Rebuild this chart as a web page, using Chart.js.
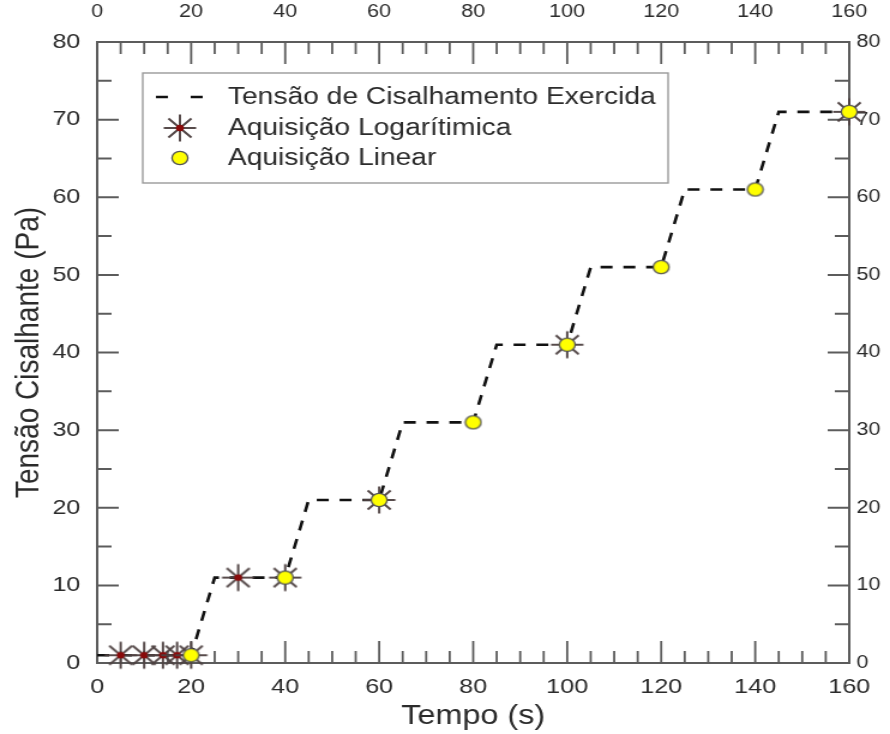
<!DOCTYPE html>
<html>
<head>
<meta charset="utf-8">
<script src="https://cdn.jsdelivr.net/npm/chart.js@4.4.1/dist/chart.umd.min.js"></script>
<style>
  html, body { margin: 0; padding: 0; background: #fff; overflow: hidden; }
  /* o gráfico é desenhado mais estreito e esticado na horizontal */
  #wrap { width: 742px; height: 734px; transform: scaleX(1.1995); transform-origin: 0 0; }
  #stressChart { display: block; }
</style>
</head>
<body>
<div id="wrap"><canvas id="stressChart" width="742" height="734"></canvas></div>
<script>
// Degraus da tensão aplicada (tempo em s, tensão em Pa)
const stepTime   = [0, 20, 25, 40, 45, 60, 65, 80, 85, 100, 105, 120, 125, 140, 145, 160];
const stepStress = [1, 1, 11, 11, 21, 21, 31, 31, 41, 41, 51, 51, 61, 61, 71, 71];

// Pontos da aquisição logarítmica
const logTime   = [5, 10, 14, 17, 20, 30, 40, 60, 100, 160];
const logStress = [1, 1, 1, 1, 1, 11, 11, 21, 41, 71];

// Pontos da aquisição linear
const linTime   = [20, 40, 60, 80, 100, 120, 140, 160];
const linStress = [1, 11, 21, 31, 41, 51, 61, 71];

const timeTicks   = [0, 20, 40, 60, 80, 100, 120, 140, 160];
const stressTicks = [0, 10, 20, 30, 40, 50, 60, 70, 80];

const FONT = "Arial, 'Liberation Sans', sans-serif";
const AXIS_COLOR = "#5c5c5c";
const TEXT_COLOR = "#2b2b2b";

function toXY(xs, ys) {
  return xs.map((x, i) => ({ x: x, y: ys[i] }));
}

// Marcador estrela (8 raios com centro vermelho)
function makeStarMarker() {
  const c = document.createElement("canvas");
  c.width = 30; c.height = 30;
  const g = c.getContext("2d");
  g.strokeStyle = "#4e4242";
  g.lineWidth = 1.9;
  const r = 13.5;
  for (let k = 0; k < 4; k++) {
    const a = k * Math.PI / 4;
    g.beginPath();
    g.moveTo(15 - r * Math.cos(a), 15 - r * Math.sin(a));
    g.lineTo(15 + r * Math.cos(a), 15 + r * Math.sin(a));
    g.stroke();
  }
  g.fillStyle = "#8a0a0a";
  g.beginPath();
  g.arc(15, 15, 3.3, 0, Math.PI * 2);
  g.fill();
  return c;
}

// Marcador círculo amarelo
function makeCircleMarker() {
  const c = document.createElement("canvas");
  c.width = 16; c.height = 16;
  const g = c.getContext("2d");
  g.fillStyle = "#ffff00";
  g.strokeStyle = "#555";
  g.lineWidth = 1.3;
  g.beginPath();
  g.arc(8, 8, 6.6, 0, Math.PI * 2);
  g.fill();
  g.stroke();
  return c;
}

const starMarker = makeStarMarker();
const circleMarker = makeCircleMarker();

// Tiques internos (maiores nos rótulos, menores a cada 5)
const innerTicks = {
  id: "innerTicks",
  beforeDatasetsDraw(chart) {
    const { ctx, chartArea: a, scales } = chart;
    ctx.save();
    ctx.strokeStyle = AXIS_COLOR;
    ctx.lineWidth = 1.8;
    for (let v = 0; v <= 160; v += 5) {
      const len = v % 20 === 0 ? 22 : 12;
      const px = scales.x.getPixelForValue(v);
      ctx.beginPath();
      ctx.moveTo(px, a.bottom); ctx.lineTo(px, a.bottom - len);
      ctx.moveTo(px, a.top); ctx.lineTo(px, a.top + len);
      ctx.stroke();
    }
    ctx.lineWidth = 2;
    for (let v = 0; v <= 80; v += 5) {
      const len = v % 10 === 0 ? 18 : 12;
      const py = scales.y.getPixelForValue(v);
      ctx.beginPath();
      ctx.moveTo(a.left, py); ctx.lineTo(a.left + len, py);
      ctx.moveTo(a.right, py); ctx.lineTo(a.right - len, py);
      ctx.stroke();
    }
    ctx.restore();
  },
};

// Legenda em caixa dentro da área do gráfico
const boxLegend = {
  id: "boxLegend",
  afterDraw(chart) {
    const ctx = chart.ctx;
    const bx = 119, by = 73, bw = 438, bh = 110;
    ctx.save();
    ctx.fillStyle = "#fff";
    ctx.fillRect(bx, by, bw, bh);
    ctx.strokeStyle = "#9a9a9a";
    ctx.lineWidth = 1.4;
    ctx.strokeRect(bx, by, bw, bh);

    const rows = [97, 128, 158];
    const sx = 150;
    chart.data.datasets.forEach((ds) => {
      const y = rows[ds.legendRow];
      if (ds.legendRow === 0) {
        ctx.strokeStyle = "#111";
        ctx.lineWidth = 2.6;
        ctx.setLineDash([10, 19]);
        ctx.beginPath();
        ctx.moveTo(sx - 20, y); ctx.lineTo(sx + 20, y);
        ctx.stroke();
        ctx.setLineDash([]);
      } else {
        const img = ds.pointStyle;
        ctx.drawImage(img, sx - img.width / 2, y - img.height / 2);
      }
      ctx.fillStyle = TEXT_COLOR;
      ctx.font = "23.5px " + FONT;
      ctx.textBaseline = "middle";
      ctx.fillText(ds.label, 190, y + 1);
    });
    ctx.restore();
  },
};

function fixedSize(size) {
  return function (scale) {
    if (scale.isHorizontal()) scale.height = size;
    else scale.width = size;
  };
}

new Chart(document.getElementById("stressChart"), {
  type: "scatter",
  data: {
    datasets: [
      {
        label: "Tensão de Cisalhamento Exercida",
        legendRow: 0,
        data: toXY(stepTime, stepStress),
        showLine: true,
        borderColor: "#111",
        borderWidth: 2.6,
        borderDash: [10, 9],
        pointRadius: 0,
        tension: 0,
        clip: false,
        order: 3,
      },
      {
        label: "Aquisição Logarítimica",
        legendRow: 1,
        data: toXY(logTime, logStress),
        showLine: false,
        pointStyle: starMarker,
        pointRadius: 14,
        clip: false,
        order: 2,
      },
      {
        label: "Aquisição Linear",
        legendRow: 2,
        data: toXY(linTime, linStress),
        showLine: false,
        pointStyle: circleMarker,
        pointRadius: 8,
        clip: false,
        order: 1,
      },
    ],
  },
  options: {
    responsive: false,
    devicePixelRatio: 1,
    animation: false,
    layout: { padding: 0 },
    plugins: {
      legend: { display: false },
      tooltip: { enabled: false },
    },
    scales: {
      x: {
        type: "linear",
        position: "bottom",
        min: 0, max: 160,
        afterFit: fixedSize(71),
        afterBuildTicks: (s) => { s.ticks = timeTicks.map((v) => ({ value: v })); },
        grid: { display: false, drawTicks: false },
        border: { display: true, color: AXIS_COLOR, width: 2 },
        ticks: { color: TEXT_COLOR, font: { family: FONT, size: 21 }, padding: 12, maxRotation: 0 },
        title: { display: true, text: "Tempo (s)", color: TEXT_COLOR, font: { family: FONT, size: 27 }, padding: { top: 0, bottom: 1 } },
      },
      x2: {
        type: "linear",
        position: "top",
        min: 0, max: 160,
        afterFit: fixedSize(42),
        afterBuildTicks: (s) => { s.ticks = timeTicks.map((v) => ({ value: v })); },
        grid: { display: false, drawTicks: false },
        border: { display: true, color: AXIS_COLOR, width: 2 },
        ticks: { color: TEXT_COLOR, font: { family: FONT, size: 18 }, padding: 19, maxRotation: 0 },
      },
      y: {
        type: "linear",
        position: "left",
        min: 0, max: 80,
        afterFit: fixedSize(81),
        afterBuildTicks: (s) => { s.ticks = stressTicks.map((v) => ({ value: v })); },
        grid: { display: false, drawTicks: false },
        border: { display: true, color: AXIS_COLOR, width: 2 },
        ticks: { color: TEXT_COLOR, font: { family: FONT, size: 21 }, padding: 14 },
        title: { display: true, text: "Tensão Cisalhante (Pa)", color: TEXT_COLOR, font: { family: FONT, size: 28 }, padding: { top: 7, bottom: 0 } },
      },
      y2: {
        type: "linear",
        position: "right",
        min: 0, max: 80,
        afterFit: fixedSize(33),
        afterBuildTicks: (s) => { s.ticks = stressTicks.map((v) => ({ value: v })); },
        grid: { display: false, drawTicks: false },
        border: { display: true, color: AXIS_COLOR, width: 2 },
        ticks: { color: TEXT_COLOR, font: { family: FONT, size: 18 }, padding: 6 },
      },
    },
  },
  plugins: [innerTicks, boxLegend],
});
</script>
</body>
</html>
